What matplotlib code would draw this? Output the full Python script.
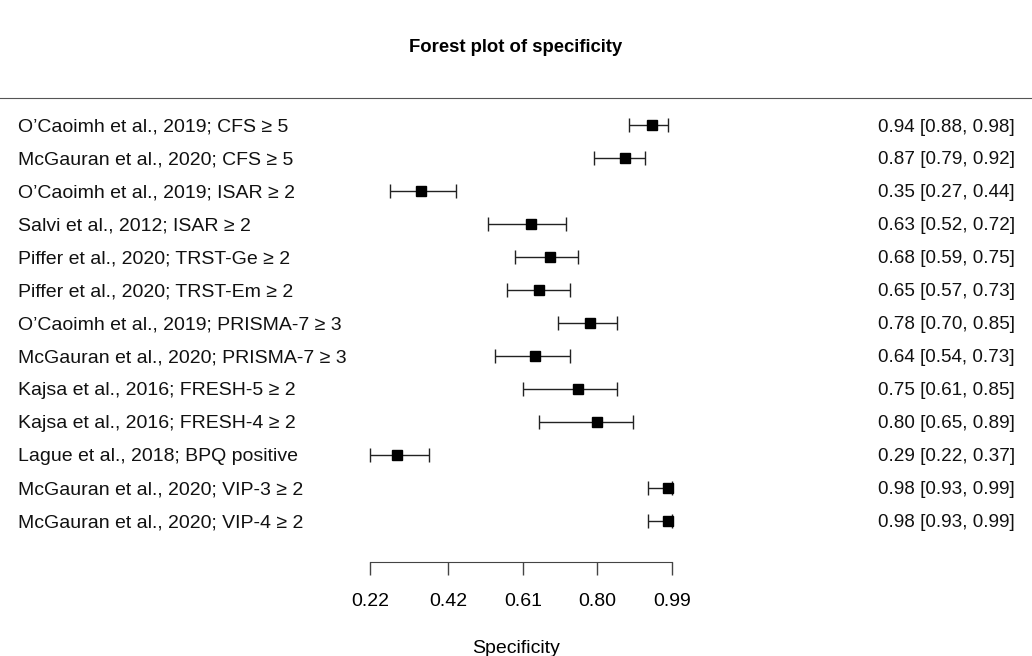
import matplotlib.pyplot as plt

plt.rcParams['font.family'] = ['Liberation Sans', 'DejaVu Sans']

studies = [
    "O\u2019Caoimh et al., 2019; CFS \u2265 5",
    "McGauran et al., 2020; CFS \u2265 5",
    "O\u2019Caoimh et al., 2019; ISAR \u2265 2",
    "Salvi et al., 2012; ISAR \u2265 2",
    "Piffer et al., 2020; TRST-Ge \u2265 2",
    "Piffer et al., 2020; TRST-Em \u2265 2",
    "O\u2019Caoimh et al., 2019; PRISMA-7 \u2265 3",
    "McGauran et al., 2020; PRISMA-7 \u2265 3",
    "Kajsa et al., 2016; FRESH-5 \u2265 2",
    "Kajsa et al., 2016; FRESH-4 \u2265 2",
    "Lague et al., 2018; BPQ positive",
    "McGauran et al., 2020; VIP-3 \u2265 2",
    "McGauran et al., 2020; VIP-4 \u2265 2",
]
est = [0.94, 0.87, 0.35, 0.63, 0.68, 0.65, 0.78, 0.64, 0.75, 0.80, 0.29, 0.98, 0.98]
lower = [0.88, 0.79, 0.27, 0.52, 0.59, 0.57, 0.70, 0.54, 0.61, 0.65, 0.22, 0.93, 0.93]
upper = [0.98, 0.92, 0.44, 0.72, 0.75, 0.73, 0.85, 0.73, 0.85, 0.89, 0.37, 0.99, 0.99]
ticks = [0.22, 0.42, 0.61, 0.80, 0.99]

n = len(studies)
rows = [n - i for i in range(n)]

fig = plt.figure(figsize=(10.32, 6.56), dpi=100)
ax = fig.add_axes([0, 0.1433, 1, 0.7073])

# linear scale placing 0.22 at ~370px and 0.99 at ~672px
ax.set_xlim(-0.7234, 1.908)
ax.set_ylim(-0.2424, 13.818)

for y, m, lo, hi in zip(rows, est, lower, upper):
    ax.errorbar(m, y, xerr=[[m - lo], [hi - m]], fmt='s', color='black',
                ecolor='#222222', elinewidth=1, capsize=5, capthick=1,
                markersize=7)

for y, name, m, lo, hi in zip(rows, studies, est, lower, upper):
    ax.text(0.0174, y, name, transform=ax.get_yaxis_transform(),
            ha='left', va='center_baseline', fontsize=14, color='#111111')
    ax.text(0.9835, y, f'{m:.2f} [{lo:.2f}, {hi:.2f}]',
            transform=ax.get_yaxis_transform(),
            ha='right', va='center_baseline', fontsize=13.6, color='#111111')

for side in ['left', 'right']:
    ax.spines[side].set_visible(False)
ax.spines['top'].set_color('#555555')
ax.spines['bottom'].set_color('#444444')
ax.spines['bottom'].set_bounds(ticks[0], ticks[-1])
ax.set_xticks(ticks)
ax.set_xticklabels([f'{t:.2f}' for t in ticks], fontsize=14)
ax.tick_params(axis='x', direction='out', length=9, width=1, color='#444444', pad=13)
ax.set_yticks([])
ax.set_xlabel('Specificity', fontsize=14, labelpad=22)

fig.suptitle('Forest plot of specificity', y=0.94, fontsize=13.3, fontweight='bold')

fig.savefig('out.png', dpi=100)
